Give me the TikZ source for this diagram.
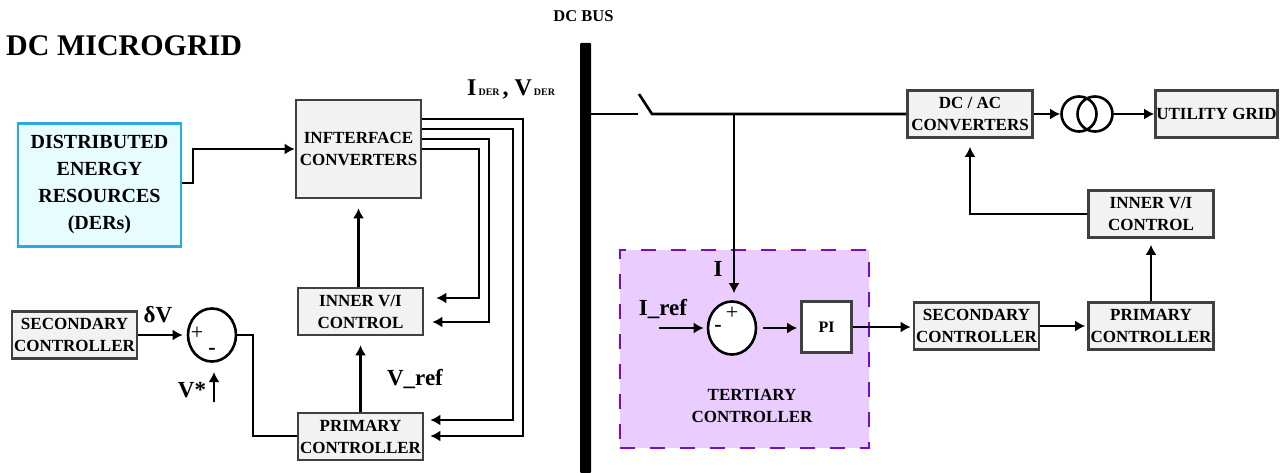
\documentclass[tikz,border=0pt]{standalone}
\usepackage{fontspec}
\setmainfont{Liberation Serif}
\usetikzlibrary{arrows.meta, shapes.geometric}
\definecolor{boxGray}{HTML}{F2F2F2}
\definecolor{boxEdge}{HTML}{404040}
\definecolor{derBlue}{HTML}{29ABE2}
\definecolor{derFill}{HTML}{E6FCFF}
\definecolor{terPurple}{HTML}{7A0CC4}
\definecolor{terFill}{HTML}{EACCFF}
\tikzset{
  blockbox/.style={draw=boxEdge, fill=boxGray, line width=2.6pt, align=center, inner sep=0pt,
    minimum width=125pt, minimum height=47pt,
    font=\bfseries\fontsize{17}{22}\selectfont},
  sumnode/.style={draw=black, fill=white, ellipse, line width=2.6pt, inner sep=0pt,
    minimum width=48pt, minimum height=53pt},
  biglabel/.style={anchor=base, inner sep=0pt, font=\bfseries\fontsize{23}{26}\selectfont},
  signlabel/.style={inner sep=0pt, font=\fontsize{22}{22}\selectfont},
  wire/.style={draw=black, line width=2.6pt},
  flow/.style={wire, -{Latex[length=10pt,width=11pt]}}
}
\begin{document}
\begin{tikzpicture}[x=1pt, y=-1pt]
  \useasboundingbox (0,0) rectangle (1284,473);
  % titulos
  \node[anchor=base west, inner sep=0pt, font=\bfseries\fontsize{30}{32}\selectfont] (title) at (6,56) {DC MICROGRID};
  \node[anchor=base, inner sep=0pt, font=\bfseries\fontsize{16.5}{18}\selectfont] (buslabel) at (583.5,22) {DC BUS};
  % barra
  \fill[black, rounded corners=1pt] (580,43) rectangle (591,473);
  \coordinate (busout) at (591,114);
  % lado izquierdo
  \node[blockbox, draw=derBlue, fill=derFill, minimum width=163pt, minimum height=123pt,
    font=\bfseries\fontsize{20}{27}\selectfont] (der) at (99.5,185) {DISTRIBUTED\\ENERGY\\RESOURCES\\(DERs)};
  \node[blockbox, minimum height=98pt] (ifc) at (358.5,149) {INFTERFACE\\CONVERTERS};
  \node[blockbox] (innerL) at (360.5,311.5) {INNER V/I\\CONTROL};
  \node[blockbox] (primL) at (360.5,436.5) {PRIMARY\\CONTROLLER};
  \node[blockbox] (secL) at (74.5,335) {SECONDARY\\CONTROLLER};
  \node[sumnode] (sumL) at (212,335) {};
  \node[signlabel] (plusL) at (197,333) {+};
  \node[signlabel, font=\bfseries\fontsize{22}{22}\selectfont] (minusL) at (212,351) {-};
  \coordinate (vstar) at (214,402);
  % etiquetas izquierda
  \node[biglabel] (dv) at (158,322) {δV};
  \node[biglabel] (vs) at (192,397) {V*};
  \node[biglabel] (vref) at (415,385) {V\_ref};
  \node[anchor=base west, inner sep=0pt, font=\bfseries\fontsize{24}{26}\selectfont] (ider) at (467,96)
    {I\kern2pt{\fontsize{10}{12}\selectfont DER}\kern3pt, V\kern2pt{\fontsize{10}{12}\selectfont DER}};
  % conexiones izquierda
  \draw[flow] (der.east |- 0,183) -- (193,183) -- (193,149) -- (ifc.west |- 0,149);
  \draw[flow, shorten >=9pt] (innerL.north -| ifc.south) -- (ifc.south);
  \draw[flow, shorten >=9pt] (primL.north) -- (innerL.south);
  \draw[flow, shorten >=4pt] (secL.east) -- (sumL.west);
  \draw[wire] (sumL.east) -- (253,335) -- (253,436) -- (primL.west |- 0,436);
  \draw[flow, shorten >=10pt] (vstar) -- (214,362);
  \draw[flow, shorten >=12pt] (ifc.east |- 0,149) -- (479,149) -- (479,298) -- (innerL.east |- 0,298);
  \draw[flow, shorten >=8pt] (ifc.east |- 0,139) -- (489,139) -- (489,322) -- (innerL.east |- 0,322);
  \draw[flow, shorten >=6pt] (ifc.east |- 0,129) -- (513,129) -- (513,420) -- (primL.east |- 0,420);
  \draw[flow, shorten >=6pt] (ifc.east |- 0,119) -- (523,119) -- (523,436) -- (primL.east |- 0,436);
  % terciario
  \node[draw=terPurple, fill=terFill, line width=2.6pt, dash pattern=on 15pt off 15pt,
    minimum width=249pt, minimum height=198pt, inner sep=0pt] (tertiary) at (744.5,349) {};
  \node[inner sep=0pt, align=center, font=\bfseries\fontsize{17}{22}\selectfont] (tertlabel) at (752,406) {TERTIARY\\CONTROLLER};
  \node[sumnode] (sumR) at (732,328) {};
  \node[signlabel] (plusR) at (732,313) {+};
  \node[signlabel, font=\bfseries\fontsize{22}{22}\selectfont] (minusR) at (718,328) {-};
  \node[blockbox, fill=white, minimum width=50pt, minimum height=51pt, font=\bfseries\fontsize{16}{18}\selectfont] (pi) at (826.5,327) {PI};
  \node[biglabel] (ilabel) at (718,276) {I};
  \node[biglabel] (iref) at (663,315) {I\_ref};
  \coordinate (irefin) at (659,328);
  % lado derecho
  \node[blockbox] (dcac) at (970,114) {DC / AC\\CONVERTERS};
  \node[blockbox, minimum width=122pt] (grid) at (1216.5,114) {UTILITY GRID};
  \node[blockbox] (innerR) at (1151,214) {INNER V/I\\CONTROL};
  \node[blockbox] (primR) at (1151,326) {PRIMARY\\CONTROLLER};
  \node[blockbox] (secR) at (976.5,326) {SECONDARY\\CONTROLLER};
  % transformador
  \node[draw=black, circle, line width=2.6pt, minimum size=35pt, inner sep=0pt] (trafoA) at (1079,114) {};
  \node[draw=black, circle, line width=2.6pt, minimum size=35pt, inner sep=0pt] (trafoB) at (1095,114) {};
  % interruptor
  \coordinate (swA) at (638,114);
  \coordinate (swB) at (652,114);
  \coordinate (swtip) at (639,94);
  \coordinate (tap) at (734,114);
  \draw[wire] (busout) -- (swA);
  \draw[wire] (swtip) -- (swB) -- (dcac.west);
  % conexiones derecha
  \draw[flow, shorten >=7pt] (tap) -- (tap |- sumR.north);
  \draw[flow, shorten >=3pt] (irefin) -- (sumR.west);
  \draw[flow, shorten <=6pt, shorten >=3pt] (sumR.east) -- (pi.west |- sumR.east);
  \draw[flow, shorten >=2pt] (pi.east) -- (secR.west |- pi.east);
  \draw[flow, shorten >=2pt] (secR.east |- primR.west) -- (primR.west);
  \draw[flow, shorten >=6pt] (primR.north) -- (innerR.south);
  \draw[flow, shorten >=8pt] (innerR.west) -| (dcac.south);
  \draw[flow] (dcac.east) -- (trafoA.west);
  \draw[flow] (trafoB.east) -- (grid.west);
\end{tikzpicture}
\end{document}
